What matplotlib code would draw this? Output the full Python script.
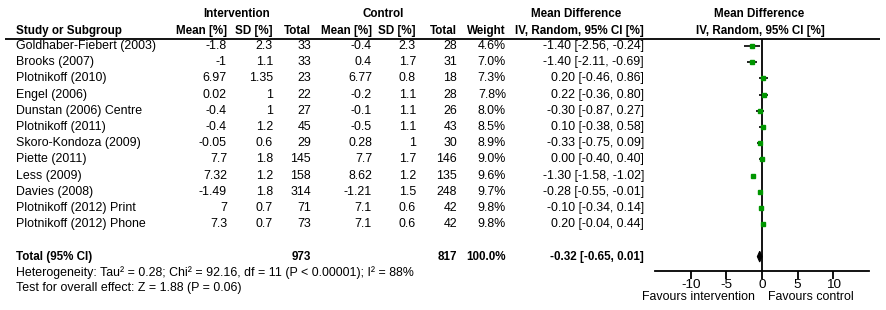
import numpy as np
import matplotlib
matplotlib.use("Agg")
import matplotlib.pyplot as plt
from matplotlib.patches import Polygon

plt.rcParams["font.family"] = ["Liberation Sans", "DejaVu Sans"]
plt.rcParams["axes.unicode_minus"] = False

# ---- data -----------------------------------------------------------------
studies = ["Goldhaber-Fiebert (2003)", "Brooks (2007)", "Plotnikoff (2010)",
           "Engel (2006)", "Dunstan (2006) Centre", "Plotnikoff (2011)",
           "Skoro-Kondoza (2009)", "Piette (2011)", "Less (2009)",
           "Davies (2008)", "Plotnikoff (2012) Print", "Plotnikoff (2012) Phone"]
int_mean = [-1.8, -1, 6.97, 0.02, -0.4, -0.4, -0.05, 7.7, 7.32, -1.49, 7, 7.3]
int_sd = [2.3, 1.1, 1.35, 1, 1, 1.2, 0.6, 1.8, 1.2, 1.8, 0.7, 0.7]
int_n = [33, 33, 23, 22, 27, 45, 29, 145, 158, 314, 71, 73]
ctl_mean = [-0.4, 0.4, 6.77, -0.2, -0.1, -0.5, 0.28, 7.7, 8.62, -1.21, 7.1, 7.1]
ctl_sd = [2.3, 1.7, 0.8, 1.1, 1.1, 1.1, 1, 1.7, 1.2, 1.5, 0.6, 0.6]
ctl_n = [28, 31, 18, 28, 26, 43, 30, 146, 135, 248, 42, 42]
weight = [4.6, 7.0, 7.3, 7.8, 8.0, 8.5, 8.9, 9.0, 9.6, 9.7, 9.8, 9.8]
md = [-1.40, -1.40, 0.20, 0.22, -0.30, 0.10, -0.33, 0.00, -1.30, -0.28, -0.10, 0.20]
ci_lo = [-2.56, -2.11, -0.46, -0.36, -0.87, -0.38, -0.75, -0.40, -1.58, -0.55, -0.34, -0.04]
ci_hi = [-0.24, -0.69, 0.86, 0.80, 0.27, 0.58, 0.09, 0.40, -1.02, -0.01, 0.14, 0.44]

total_int_n = 973
total_ctl_n = 817
total_weight = 100.0
total_md, total_lo, total_hi = -0.32, -0.65, 0.01

heterogeneity = "Heterogeneity: Tau\u00b2 = 0.28; Chi\u00b2 = 92.16, df = 11 (P < 0.00001); I\u00b2 = 88%"
overall = "Test for overall effect: Z = 1.88 (P = 0.06)"
x_ticks = [-10, -5, 0, 5, 10]
x_range = (-15, 15)

# ---- layout (pixels) ------------------------------------------------------
W, H = 886, 310
ROW0, STEP = 46.0, 16.2
TOTAL_ROW = 13
FS = 8.9     # regular text
FSB = 8.35   # bold text renders wider, so a touch smaller
GREEN = "#009600"


def row_y(i):
    return ROW0 + STEP * i


fig = plt.figure(figsize=(W / 100, H / 100), dpi=100)
bg = fig.add_axes([0, 0, 1, 1])
bg.set_xlim(0, W)
bg.set_ylim(H, 0)
bg.axis("off")

# headers
bold = dict(fontsize=FSB, fontweight="bold", va="center")
bg.text(237, 14, "Intervention", ha="center", **bold)
bg.text(383, 14, "Control", ha="center", **bold)
bg.text(576, 14, "Mean Difference", ha="center", **bold)
bg.text(759, 14, "Mean Difference", ha="center", **bold)
bg.text(16, 31, "Study or Subgroup", ha="left", **bold)
cols = [227, 273, 311, 372, 416, 457, 506, 644]
heads = ["Mean [%]", "SD [%]", "Total", "Mean [%]", "SD [%]", "Total",
         "Weight", "IV, Random, 95% CI [%]"]
for x, h in zip(cols, heads):
    bg.text(x, 31, h, ha="right", **bold)
bg.text(760, 31, "IV, Random, 95% CI [%]", ha="center", **bold)
bg.plot([5, 880], [39, 39], color="black", lw=1.3, solid_capstyle="butt")

# study rows
norm = dict(fontsize=FS, va="center")
for i, name in enumerate(studies):
    y = row_y(i)
    bg.text(16, y, name, ha="left", **norm)
    vals = [f"{int_mean[i]:g}", f"{int_sd[i]:g}", f"{int_n[i]}",
            f"{ctl_mean[i]:g}", f"{ctl_sd[i]:g}", f"{ctl_n[i]}",
            f"{weight[i]:.1f}%",
            f"{md[i]:.2f} [{ci_lo[i]:.2f}, {ci_hi[i]:.2f}]"]
    for x, v in zip(cols, vals):
        bg.text(x, y, v, ha="right", **norm)

# total row
yt = row_y(TOTAL_ROW)
bg.text(16, yt, "Total (95% CI)", ha="left", **bold)
bg.text(cols[2], yt, f"{total_int_n}", ha="right", **bold)
bg.text(cols[5], yt, f"{total_ctl_n}", ha="right", **bold)
bg.text(cols[6], yt, f"{total_weight:.1f}%", ha="right", **bold)
bg.text(cols[7], yt, f"{total_md:.2f} [{total_lo:.2f}, {total_hi:.2f}]",
        ha="right", **bold)
bg.text(16, 273, heterogeneity, ha="left", **norm)
bg.text(16, 288, overall, ha="left", **norm)

# ---- forest panel ---------------------------------------------------------
x0, x1, y_top, y_bot = 655, 869, 39, 271
ax = fig.add_axes([x0 / W, 1 - y_bot / H, (x1 - x0) / W, (y_bot - y_top) / H])
ax.patch.set_alpha(0)
ax.set_xlim(*x_range)
ax.set_ylim((y_bot - ROW0) / STEP, (y_top - ROW0) / STEP)
for s in ["top", "left", "right"]:
    ax.spines[s].set_visible(False)
ax.spines["bottom"].set_linewidth(1.3)
ax.set_yticks([])
ax.set_xticks(x_ticks)
ax.set_xticklabels([f"{t}" for t in x_ticks], fontsize=FS + 0.8)
ax.tick_params(axis="x", direction="out", length=6, width=1.3, pad=0)
ax.axvline(0, color="black", lw=1.3)

rows = np.arange(len(studies))
ax.hlines(rows, ci_lo, ci_hi, color="black", lw=1.2)
for i in rows:
    ax.plot(md[i], i, marker="s", color=GREEN, mec=GREEN,
            ms=np.sqrt(weight[i]) * 1.05, zorder=3)

dia = Polygon([[total_lo, TOTAL_ROW], [total_md, TOTAL_ROW - 0.33],
               [total_hi, TOTAL_ROW], [total_md, TOTAL_ROW + 0.33]],
              closed=True, facecolor="black", edgecolor="black", lw=0.8)
ax.add_patch(dia)

bg.text(755, 297, "Favours intervention", ha="right", **norm)
bg.text(768, 297, "Favours control", ha="left", **norm)

fig.savefig("out.png", dpi=100)
